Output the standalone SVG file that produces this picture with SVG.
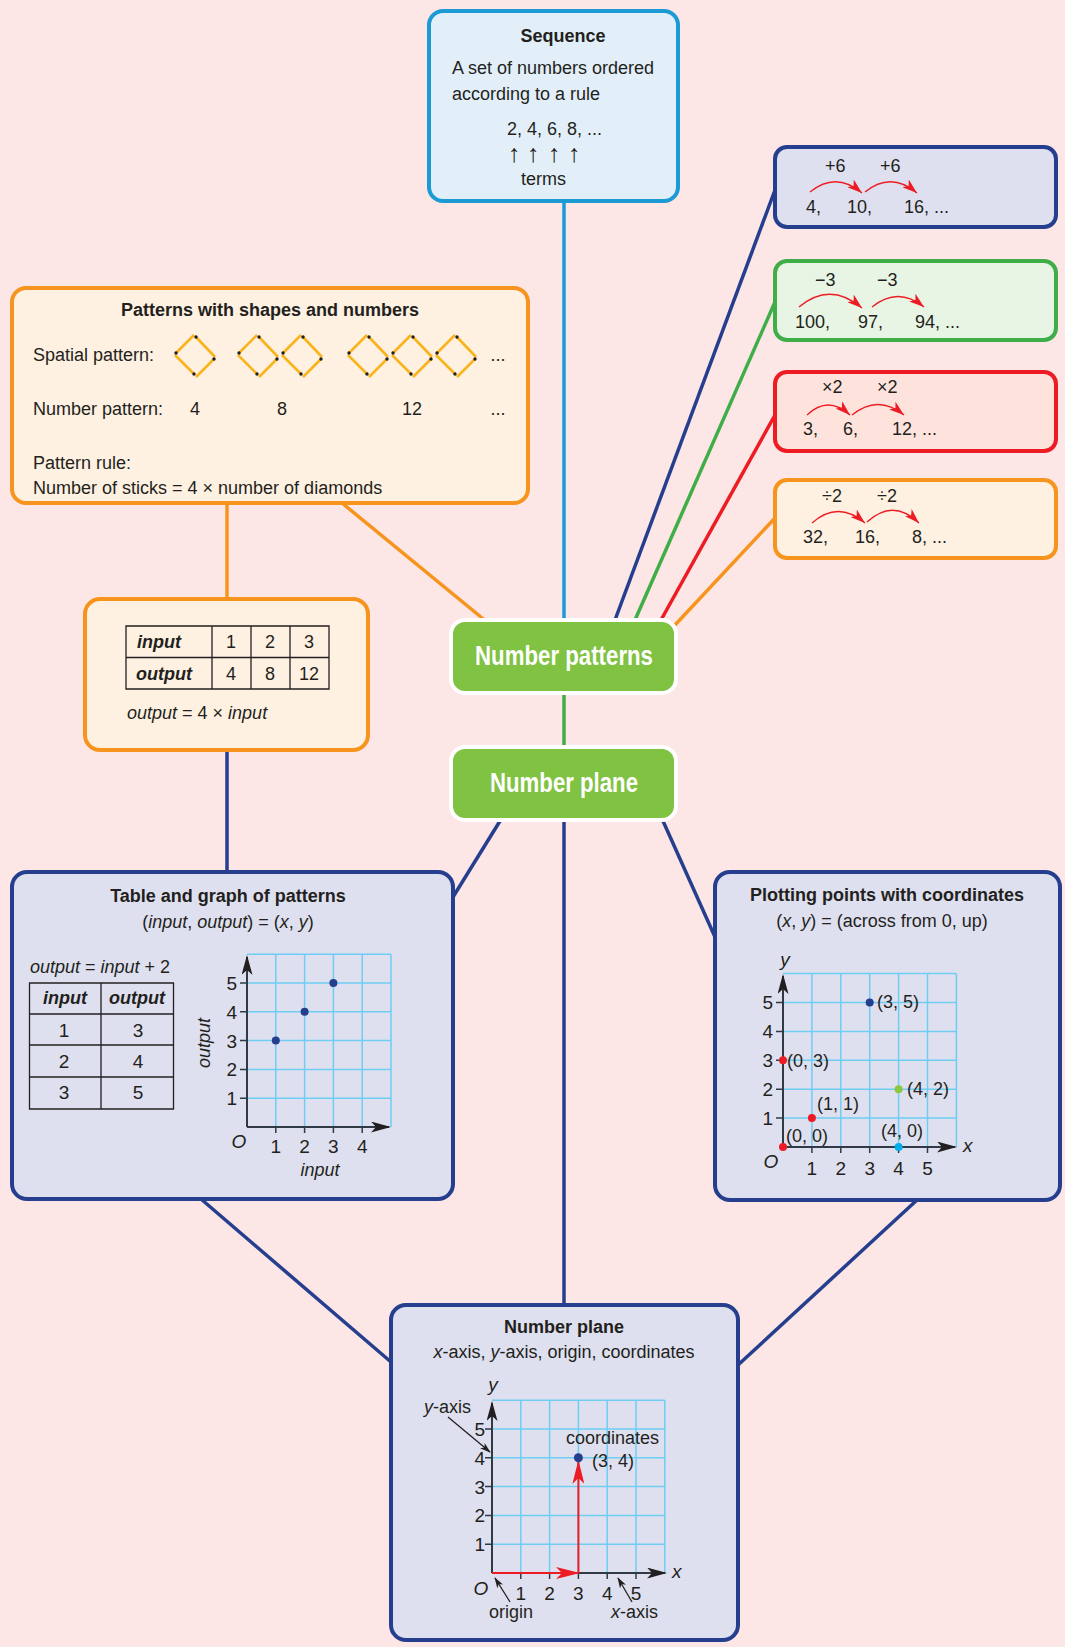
<svg xmlns="http://www.w3.org/2000/svg" width="1065" height="1647" viewBox="0 0 1065 1647">
<defs>
<style>
.t{font-family:'Liberation Sans',Arial,sans-serif;font-size:18px;fill:#231f20}
.b{font-weight:bold}
.i{font-style:italic}
.m{text-anchor:middle}
.e{text-anchor:end}
.g{font-size:19px}
.up{font-size:25px}
.big{font-family:'Liberation Sans',Arial,sans-serif;font-weight:bold;font-size:27px;fill:#fff;text-anchor:middle}
.con{fill:none;stroke-width:3.5}
.box{stroke-width:4}
.grid{fill:none;stroke:#6fcdf4;stroke-width:1.5}
.axis{fill:none;stroke:#2f3a44;stroke-width:2}
.tick{fill:none;stroke:#2f3a44;stroke-width:1.5}
.arc{fill:none;stroke:#ed1c24;stroke-width:1.3}
.tbl{fill:none;stroke:#231f20;stroke-width:1.3}
</style>
<marker id="ra" markerUnits="userSpaceOnUse" viewBox="0 0 15 10" markerWidth="15" markerHeight="10" refX="15" refY="5" orient="auto"><path d="M0,0 L15,5 L0,10 L4,5 Z" fill="#ed1c24"/></marker>
<marker id="ka" markerUnits="userSpaceOnUse" viewBox="0 0 20 11" markerWidth="20" markerHeight="11" refX="18" refY="5.5" orient="auto"><path d="M0,0 L20,5.5 L0,11 L5,5.5 Z" fill="#231f20"/></marker>
<marker id="rb" markerUnits="userSpaceOnUse" viewBox="0 0 24 12" markerWidth="24" markerHeight="12" refX="22" refY="6" orient="auto"><path d="M0,0 L24,6 L0,12 L6,6 Z" fill="#ed1c24"/></marker>
<marker id="sa" markerUnits="userSpaceOnUse" viewBox="0 0 11 7" markerWidth="11" markerHeight="7" refX="10" refY="3.5" orient="auto"><path d="M0,0 L11,3.5 L0,7 L3,3.5 Z" fill="#231f20"/></marker>
<g id="dia">
<path d="M-19,-3 L-1,-21 M1,-19 L20,1 M19,3 L1,21 M-1,18 L-20,-1" stroke="#f9b31b" stroke-width="2.6" fill="none"/>
<circle cx="-19" cy="-3" r="1.7" fill="#231f20"/>
<circle cx="1" cy="-19" r="1.7" fill="#231f20"/>
<circle cx="19" cy="3" r="1.7" fill="#231f20"/>
<circle cx="-1" cy="18" r="1.7" fill="#231f20"/>
</g>
</defs>
<rect width="1065" height="1647" fill="#fde6e6"/>

<g id="connectors">
<path class="con" stroke="#1b9ad6" d="M564,201 V620"/>
<path class="con" stroke="#263e8e" d="M615,620 L775,190"/>
<path class="con" stroke="#3fae49" d="M635,620 L775,302"/>
<path class="con" stroke="#ed1c24" d="M661,620 L775,415"/>
<path class="con" stroke="#f7941d" d="M675,625 L775,518"/>
<path class="con" stroke="#f7941d" d="M487,622 L342,503"/>
<path class="con" stroke="#f7941d" d="M227,503 V599"/>
<path class="con" stroke="#263e8e" d="M227,750 V872"/>
<path class="con" stroke="#3fae49" d="M564,693 V747"/>
<path class="con" stroke="#263e8e" d="M500,821 L453,897"/>
<path class="con" stroke="#263e8e" d="M663,821 L715,937"/>
<path class="con" stroke="#263e8e" d="M564,821 V1305"/>
<path class="con" stroke="#263e8e" d="M201,1199 L391,1362"/>
<path class="con" stroke="#263e8e" d="M917,1200 L738,1365"/>
</g>

<g id="sequence">
<rect class="box" x="429" y="11" width="249" height="190" rx="14" fill="#e2eff9" stroke="#1b9ad6"/>
<text class="t b m" x="563" y="42">Sequence</text>
<text class="t" x="452" y="74">A set of numbers ordered</text>
<text class="t" x="452" y="100">according to a rule</text>
<text class="t" x="507" y="135">2, 4, 6, 8, ...</text>
<text class="t up m" x="514" y="162">↑</text>
<text class="t up m" x="533" y="162">↑</text>
<text class="t up m" x="554" y="162">↑</text>
<text class="t up m" x="574" y="162">↑</text>
<text class="t" x="521" y="185">terms</text>
</g>

<g id="add6">
<rect class="box" x="775" y="147" width="281" height="80" rx="12" fill="#dfe0ef" stroke="#263e8e"/>
<text class="t" x="825" y="172">+6</text>
<text class="t" x="880" y="172">+6</text>
<path class="arc" marker-end="url(#ra)" d="M810,192 Q836,171 862,193"/>
<path class="arc" marker-end="url(#ra)" d="M865,192 Q891,171 917,193"/>
<text class="t" x="806" y="213">4,</text>
<text class="t" x="847" y="213">10,</text>
<text class="t" x="904" y="213">16, ...</text>
</g>

<g id="sub3">
<rect class="box" x="775" y="261" width="281" height="79" rx="12" fill="#e8f4e4" stroke="#3fae49"/>
<text class="t" x="815" y="286">−3</text>
<text class="t" x="877" y="286">−3</text>
<path class="arc" marker-end="url(#ra)" d="M799,307 Q830,281 862,308"/>
<path class="arc" marker-end="url(#ra)" d="M872,307 Q898,286 924,307"/>
<text class="t" x="795" y="328">100,</text>
<text class="t" x="858" y="328">97,</text>
<text class="t" x="915" y="328">94, ...</text>
</g>

<g id="mul2">
<rect class="box" x="775" y="372" width="281" height="79" rx="12" fill="#fde3dc" stroke="#ed1c24"/>
<text class="t" x="822" y="393">×2</text>
<text class="t" x="877" y="393">×2</text>
<path class="arc" marker-end="url(#ra)" d="M807,415 Q828,395 850,415"/>
<path class="arc" marker-end="url(#ra)" d="M852,415 Q878,394 904,415"/>
<text class="t" x="803" y="435">3,</text>
<text class="t" x="843" y="435">6,</text>
<text class="t" x="892" y="435">12, ...</text>
</g>

<g id="div2">
<rect class="box" x="775" y="480" width="281" height="78" rx="12" fill="#fef1e1" stroke="#f7941d"/>
<text class="t" x="822" y="502">÷2</text>
<text class="t" x="877" y="502">÷2</text>
<path class="arc" marker-end="url(#ra)" d="M812,523 Q838,500 865,523"/>
<path class="arc" marker-end="url(#ra)" d="M867,522 Q893,498 919,523"/>
<text class="t" x="803" y="543">32,</text>
<text class="t" x="855" y="543">16,</text>
<text class="t" x="912" y="543">8, ...</text>
</g>

<g id="patterns">
<rect class="box" x="12" y="288" width="516" height="215" rx="14" fill="#fef1e1" stroke="#f7941d"/>
<text class="t b m" x="270" y="316">Patterns with shapes and numbers</text>
<text class="t" x="33" y="361">Spatial pattern:</text>
<use href="#dia" x="195" y="356"/>
<use href="#dia" x="258" y="356"/>
<use href="#dia" x="302" y="356"/>
<use href="#dia" x="368" y="356"/>
<use href="#dia" x="412" y="356"/>
<use href="#dia" x="456" y="356"/>
<text class="t m" x="498" y="361">...</text>
<text class="t" x="33" y="415">Number pattern:</text>
<text class="t m" x="195" y="415">4</text>
<text class="t m" x="282" y="415">8</text>
<text class="t m" x="412" y="415">12</text>
<text class="t m" x="498" y="415">...</text>
<text class="t" x="33" y="469">Pattern rule:</text>
<text class="t" x="33" y="494">Number of sticks = 4 × number of diamonds</text>
</g>

<g id="rule-table">
<rect class="box" x="85" y="599" width="283" height="151" rx="15" fill="#fef1e1" stroke="#f7941d"/>
<path class="tbl" d="M126,626 H329 V689 H126 Z M126,657.5 H329 M212,626 V689 M251,626 V689 M290,626 V689"/>
<text class="t b i" x="137" y="648">input</text>
<text class="t b i" x="136" y="680">output</text>
<text class="t m" x="231" y="648">1</text>
<text class="t m" x="270" y="648">2</text>
<text class="t m" x="309" y="648">3</text>
<text class="t m" x="231" y="680">4</text>
<text class="t m" x="270" y="680">8</text>
<text class="t m" x="309" y="680">12</text>
<text class="t" x="127" y="719"><tspan class="i">output</tspan> = 4 × <tspan class="i">input</tspan></text>
</g>

<g id="number-patterns">
<rect x="451" y="620" width="225" height="73" rx="14" fill="#80c241" stroke="#fff" stroke-width="4"/>
<text class="big" x="564" y="665" textLength="178" lengthAdjust="spacingAndGlyphs">Number patterns</text>
</g>

<g id="number-plane-hub">
<rect x="451" y="747" width="225" height="73" rx="14" fill="#80c241" stroke="#fff" stroke-width="4"/>
<text class="big" x="564" y="792" textLength="148" lengthAdjust="spacingAndGlyphs">Number plane</text>
</g>

<g id="table-graph">
<rect class="box" x="12" y="872" width="441" height="327" rx="15" fill="#dfe0ef" stroke="#263e8e"/>
<text class="t b m" x="228" y="902">Table and graph of patterns</text>
<text class="t m" x="228" y="928">(<tspan class="i">input</tspan>, <tspan class="i">output</tspan>) = (<tspan class="i">x</tspan>, <tspan class="i">y</tspan>)</text>
<text class="t" x="30" y="973"><tspan class="i">output</tspan> = <tspan class="i">input</tspan> + 2</text>
<path class="tbl" d="M29.5,983 H173.5 V1109 H29.5 Z M29.5,1014 H173.5 M29.5,1045 H173.5 M29.5,1077 H173.5 M101,983 V1109"/>
<text class="t b i m" x="65" y="1004">input</text>
<text class="t b i m" x="137" y="1004">output</text>
<text class="t g m" x="64" y="1037">1</text>
<text class="t g m" x="138" y="1037">3</text>
<text class="t g m" x="64" y="1068">2</text>
<text class="t g m" x="138" y="1068">4</text>
<text class="t g m" x="64" y="1099">3</text>
<text class="t g m" x="138" y="1099">5</text>
<path class="grid" d="M247,954.2 H391 M247,983 H391 M247,1011.8 H391 M247,1040.6 H391 M247,1069.4 H391 M247,1098.2 H391 M275.8,954.2 V1127 M304.6,954.2 V1127 M333.4,954.2 V1127 M362.2,954.2 V1127 M391,954.2 V1127"/>
<path class="tick" d="M240,983 H247 M240,1011.8 H247 M240,1040.6 H247 M240,1069.4 H247 M240,1098.2 H247 M275.8,1127 V1133 M304.6,1127 V1133 M333.4,1127 V1133 M362.2,1127 V1133"/>
<path class="axis" marker-end="url(#ka)" d="M247,1127 V957"/>
<path class="axis" marker-end="url(#ka)" d="M247,1127 H389"/>
<circle cx="275.8" cy="1040.6" r="4" fill="#263e8e"/>
<circle cx="304.6" cy="1011.8" r="4" fill="#263e8e"/>
<circle cx="333.4" cy="983" r="4" fill="#263e8e"/>
<text class="t g e" x="237" y="990">5</text>
<text class="t g e" x="237" y="1019">4</text>
<text class="t g e" x="237" y="1048">3</text>
<text class="t g e" x="237" y="1076">2</text>
<text class="t g e" x="237" y="1105">1</text>
<text class="t g i m" x="239" y="1148">O</text>
<text class="t g m" x="275.8" y="1153">1</text>
<text class="t g m" x="304.6" y="1153">2</text>
<text class="t g m" x="333.4" y="1153">3</text>
<text class="t g m" x="362.2" y="1153">4</text>
<text class="t i m" x="320" y="1176">input</text>
<text class="t i m" transform="translate(210,1043) rotate(-90)">output</text>
</g>

<g id="plotting">
<rect class="box" x="715" y="872" width="345" height="328" rx="15" fill="#dfe0ef" stroke="#263e8e"/>
<text class="t b m" x="887" y="901">Plotting points with coordinates</text>
<text class="t m" x="882" y="927">(<tspan class="i">x</tspan>, <tspan class="i">y</tspan>) = (across from 0, up)</text>
<path class="grid" d="M783,973.6 H956.4 M783,1002.5 H956.4 M783,1031.4 H956.4 M783,1060.3 H956.4 M783,1089.2 H956.4 M783,1118.1 H956.4 M811.9,973.6 V1147 M840.8,973.6 V1147 M869.7,973.6 V1147 M898.6,973.6 V1147 M927.5,973.6 V1147 M956.4,973.6 V1147"/>
<path class="tick" d="M776,1002.5 H783 M776,1031.4 H783 M776,1060.3 H783 M776,1089.2 H783 M776,1118.1 H783 M811.9,1147 V1153 M840.8,1147 V1153 M869.7,1147 V1153 M898.6,1147 V1153 M927.5,1147 V1153"/>
<path class="axis" marker-end="url(#ka)" d="M783,1147 V976"/>
<path class="axis" marker-end="url(#ka)" d="M783,1147 H955"/>
<circle cx="783" cy="1147" r="4" fill="#ed1c24"/>
<circle cx="811.9" cy="1118.1" r="4" fill="#ed1c24"/>
<circle cx="783" cy="1060.3" r="4" fill="#ed1c24"/>
<circle cx="869.7" cy="1002.5" r="4" fill="#263e8e"/>
<circle cx="898.6" cy="1089.2" r="4" fill="#8dc63f"/>
<circle cx="898.6" cy="1147" r="4" fill="#00aeef"/>
<text class="t" x="877" y="1008">(3, 5)</text>
<text class="t" x="787" y="1067">(0, 3)</text>
<text class="t" x="907" y="1095">(4, 2)</text>
<text class="t" x="817" y="1110">(1, 1)</text>
<text class="t" x="786" y="1142">(0, 0)</text>
<text class="t" x="881" y="1137">(4, 0)</text>
<text class="t g e" x="773" y="1009">5</text>
<text class="t g e" x="773" y="1038">4</text>
<text class="t g e" x="773" y="1067">3</text>
<text class="t g e" x="773" y="1096">2</text>
<text class="t g e" x="773" y="1125">1</text>
<text class="t g m" x="811.9" y="1175">1</text>
<text class="t g m" x="840.8" y="1175">2</text>
<text class="t g m" x="869.7" y="1175">3</text>
<text class="t g m" x="898.6" y="1175">4</text>
<text class="t g m" x="927.5" y="1175">5</text>
<text class="t g i m" x="771" y="1168">O</text>
<text class="t g i" x="963" y="1152">x</text>
<text class="t g i m" x="785" y="966">y</text>
</g>

<g id="number-plane">
<rect class="box" x="391" y="1305" width="347" height="335" rx="15" fill="#dfe0ef" stroke="#263e8e"/>
<text class="t b m" x="564" y="1333">Number plane</text>
<text class="t m" x="564" y="1358"><tspan class="i">x</tspan>-axis, <tspan class="i">y</tspan>-axis, origin, coordinates</text>
<path class="grid" d="M492,1400.2 H664.8 M492,1429 H664.8 M492,1457.8 H664.8 M492,1486.6 H664.8 M492,1515.4 H664.8 M492,1544.2 H664.8 M520.8,1400.2 V1573 M549.6,1400.2 V1573 M578.4,1400.2 V1573 M607.2,1400.2 V1573 M636,1400.2 V1573 M664.8,1400.2 V1573"/>
<path class="tick" d="M485,1429 H492 M485,1457.8 H492 M485,1486.6 H492 M485,1515.4 H492 M485,1544.2 H492 M520.8,1573 V1579 M549.6,1573 V1579 M578.4,1573 V1579 M607.2,1573 V1579 M636,1573 V1579"/>
<path class="axis" marker-end="url(#ka)" d="M492,1573 V1403"/>
<path class="axis" marker-end="url(#ka)" d="M492,1573 H665"/>
<path fill="none" stroke="#ed1c24" stroke-width="2" marker-end="url(#rb)" d="M492,1573 H578"/>
<path fill="none" stroke="#ed1c24" stroke-width="2" marker-end="url(#rb)" d="M578.4,1573 V1462"/>
<circle cx="578.4" cy="1457.8" r="4.5" fill="#263e8e"/>
<text class="t" x="566" y="1444">coordinates</text>
<text class="t" x="592" y="1467">(3, 4)</text>
<text class="t g e" x="485" y="1436">5</text>
<text class="t g e" x="485" y="1465">4</text>
<text class="t g e" x="485" y="1494">3</text>
<text class="t g e" x="485" y="1522">2</text>
<text class="t g e" x="485" y="1551">1</text>
<text class="t g m" x="520.8" y="1600">1</text>
<text class="t g m" x="549.6" y="1600">2</text>
<text class="t g m" x="578.4" y="1600">3</text>
<text class="t g m" x="607.2" y="1600">4</text>
<text class="t g m" x="636" y="1600">5</text>
<text class="t g i m" x="481" y="1595">O</text>
<text class="t g i" x="672" y="1578">x</text>
<text class="t g i m" x="493" y="1391">y</text>
<text class="t" x="424" y="1413"><tspan class="i">y</tspan>-axis</text>
<path fill="none" stroke="#231f20" stroke-width="1.3" marker-end="url(#sa)" d="M448,1417 L490,1452"/>
<text class="t" x="489" y="1618">origin</text>
<path fill="none" stroke="#231f20" stroke-width="1.3" marker-end="url(#sa)" d="M510,1602 L495,1578"/>
<text class="t" x="611" y="1618"><tspan class="i">x</tspan>-axis</text>
<path fill="none" stroke="#231f20" stroke-width="1.3" marker-end="url(#sa)" d="M632,1602 L618,1578"/>
</g>
</svg>
